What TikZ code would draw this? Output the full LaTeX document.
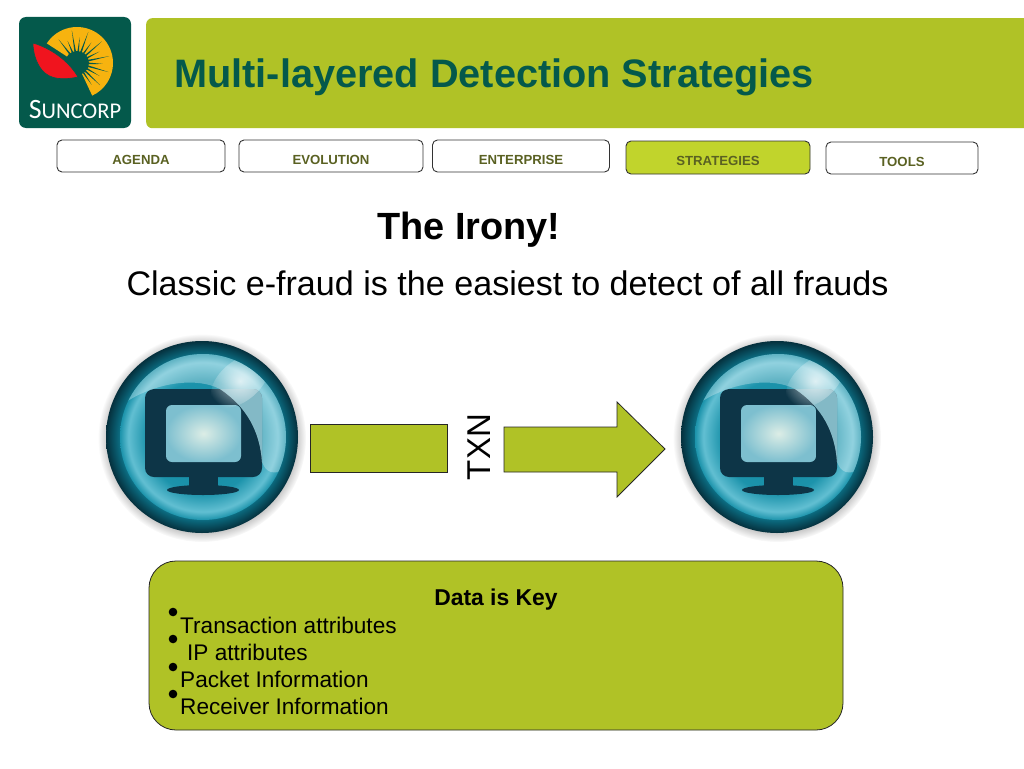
\documentclass[tikz,border=0pt]{standalone}
\usepackage{fontspec}
\setmainfont{Liberation Sans}
\newfontfamily\logofont{Carlito}
\usepackage{xcolor}
\usepackage{tikz}
\usetikzlibrary{calc}
\usetikzlibrary{fadings}
\definecolor{barolive}{HTML}{B0C226}
\definecolor{tabolive}{HTML}{C1D42C}
\definecolor{logogreen}{HTML}{04594B}
\definecolor{sunyellow}{HTML}{F7B30F}
\definecolor{leafred}{HTML}{F0141E}
\definecolor{tabtext}{HTML}{5A6122}
\definecolor{rimdark}{HTML}{05303D}
\definecolor{rimmid}{HTML}{0A6478}
\definecolor{rimlight}{HTML}{1C93AB}
\definecolor{disclight}{HTML}{62BFD2}
\definecolor{discdark}{HTML}{0F86A0}
\definecolor{bodydark}{HTML}{0D3547}
\definecolor{screenlight}{HTML}{DCEDE6}
\definecolor{screenedge}{HTML}{7DBFCF}
\definecolor{glaretint}{HTML}{8CC6D3}
\pgfdeclareradialshading{ballrim}{\pgfpoint{0bp}{0bp}}{color(0bp)=(rimlight); color(19.5bp)=(rimlight); color(22bp)=(rimmid); color(25bp)=(rimdark); color(50bp)=(rimdark)}
\pgfdeclareradialshading{balldisc}{\pgfpoint{0bp}{0bp}}{color(0bp)=(discdark); color(17bp)=(rimlight); color(22.5bp)=(disclight); color(25bp)=(rimlight); color(50bp)=(rimlight)}
\tikzfading[name=softblob,inner color=transparent!0,outer color=transparent!100]
\newcommand{\tablabel}[2]{\raisebox{-#1pt}[0pt][0pt]{#2}}
\newcommand{\glarepath}{(-76,-35) .. controls (-45,-55) and (-5,-60) .. (18,-48)
  .. controls (45,-30) and (58,-5) .. (60,25) .. controls (64,35) and (70,40) .. (90,30)
  -- (100,-100) -- (-100,-100) -- cycle}
\tikzset{
  tabbox/.style={draw=black!80,line width=0.9pt,rounded corners=5pt,fill=white,inner sep=0pt,outer sep=0pt,text=tabtext,font=\bfseries\fontsize{13.2}{14}\selectfont},
  olivebox/.style={draw=black!85,line width=0.8pt,fill=barolive,inner sep=0pt,outer sep=0pt},
  listitem/.style={anchor=base west,inner sep=0pt,font=\fontsize{22.6}{24}\selectfont},
  listdot/.style={circle,fill=black,inner sep=0pt,minimum size=8.6pt},
  pics/monitorball/.style={code={
    % Soft shadow and the glass ball
    \fill[black,opacity=0.35,path fading=circle with fuzzy edge 15 percent] (0,1) circle[radius=104];
    \shade[shading=ballrim] (0,0) circle[radius=96];
    \shade[shading=balldisc] (1,0) circle[radius=83];
    % Monitor
    \fill[bodydark,rounded corners=9pt] (-57,-48) rectangle (60,40);
    \fill[bodydark] (-13,38) rectangle (16,50);
    \fill[bodydark] (1,53) ellipse[x radius=36,y radius=5];
    \shade[inner color=screenlight,outer color=screenedge,rounded corners=6pt] (-36,-32) rectangle (39,25);
    % Glare over the upper part
    \begin{scope}
      \clip (1,0) circle[radius=83];
      \fill[white,opacity=0.3] \glarepath;
      \begin{scope}
        \clip[rounded corners=9pt] (-57,-48) rectangle (60,40);
        \fill[glaretint,opacity=0.85] \glarepath;
      \end{scope}
      \fill[white,opacity=0.75,path fading=softblob,rotate around={40:(38,-56)}]
        (38,-56) ellipse[x radius=34,y radius=20];
    \end{scope}
  }}
}
\begin{document}
\begin{tikzpicture}[x=1pt,y=-1pt]
  \useasboundingbox[fill=white] (0,0) rectangle (1024,768);

  % Logo in the corner
  \node[fill=logogreen,rounded corners=7pt,minimum width=112pt,minimum height=111pt,inner sep=0pt] (logo) at (75,72.5) {};
  \coordinate (sun) at (77,63);
  \fill[sunyellow] (sun) -- ++(-147:36) arc[start angle=-147,end angle=65,radius=36] -- cycle;
  \begin{scope}[shift={(sun)}]
    \fill[logogreen] (0,0) circle[radius=12];
    \foreach \a/\r in {-128/30,-113/24,-99/33,-84/26,-70/33,-55/25,-41/33,-27/25,-12/33,2/26,16/33,30/26,44/32,56/26}
      \fill[logogreen] (\a-6:9) -- (\a:\r) -- (\a+6:9) -- cycle;
  \end{scope}
  \fill[leafred,draw=logogreen,line width=0.6pt] (33,43) .. controls (50,48) and (68,60) .. (78,77)
    .. controls (64,80) and (50,80) .. (42,70) .. controls (36,63) and (33,52) .. cycle;
  \node[text=white,inner sep=0pt,anchor=base] (logotext) at (75,118) {\logofont\fontsize{28}{28}\selectfont S\fontsize{22.5}{23}\selectfont UNCORP};

  % Title bar
  \node[fill=barolive,rounded corners=6pt,minimum width=890pt,minimum height=110pt,inner sep=0pt,anchor=north west] (bar) at (146,18) {};
  \node[anchor=west,inner sep=0pt,text=logogreen,font=\bfseries\fontsize{39.7}{41}\selectfont] (title) at (174,77) {Multi-layered Detection Strategies};
  \useasboundingbox (0,0) rectangle (1024,768);

  % Tabs
  \node[tabbox,minimum width=168pt,minimum height=32pt] (agenda) at (141,156) {\tablabel{8.5}{AGENDA}};
  \node[tabbox,minimum width=184pt,minimum height=32pt] (evolution) at (331,156) {\tablabel{8.5}{EVOLUTION}};
  \node[tabbox,minimum width=177pt,minimum height=32pt] (enterprise) at (521,156) {\tablabel{8.5}{ENTERPRISE}};
  \node[tabbox,fill=tabolive,minimum width=184pt,minimum height=33pt] (strategies) at (718,157.5) {\tablabel{7.5}{STRATEGIES}};
  \node[tabbox,minimum width=152pt,minimum height=32pt] (tools) at (902,158) {\tablabel{8.5}{TOOLS}};

  % Headings
  \node[inner sep=0pt,font=\bfseries\fontsize{37.9}{39}\selectfont] (irony) at (469,230) {The Irony!};
  \node[inner sep=0pt,font=\fontsize{34.1}{36}\selectfont] (classic) at (507.5,283) {Classic e-fraud is the easiest to detect of all frauds};

  % Sender, transaction and receiver
  \pic (sender) at (202,437) {monitorball};
  \pic (receiver) at (777,437) {monitorball};
  \node[olivebox,minimum width=137pt,minimum height=48pt] (txnbox) at (378.5,448) {};
  \node[rotate=90,inner sep=0pt,font=\fontsize{33}{35}\selectfont] (txn) at (479,447) {TXN};
  \coordinate (tail) at (504,427);
  \draw[olivebox] (tail) -- (617,427) -- (617,402) -- (665,449) -- (617,497) -- (617,472) -- (504,472) -- cycle;

  % Data box
  \node[olivebox,rounded corners=27pt,minimum width=694pt,minimum height=169pt] (databox) at (496,645.5) {};
  \node[inner sep=0pt,font=\bfseries\fontsize{22.9}{24}\selectfont] (datakey) at (496,600) {Data is Key};
  \node[listitem] (item1) at (180,633) {Transaction attributes};
  \node[listitem] (item2) at (187,660) {IP attributes};
  \node[listitem] (item3) at (180,687.5) {Packet Information};
  \node[listitem] (item4) at (180,714.5) {Receiver Information};
  \foreach \i/\y in {1/612,2/639,3/667,4/694}
    \node[listdot] (dot\i) at (173,\y) {};
\end{tikzpicture}
\end{document}
